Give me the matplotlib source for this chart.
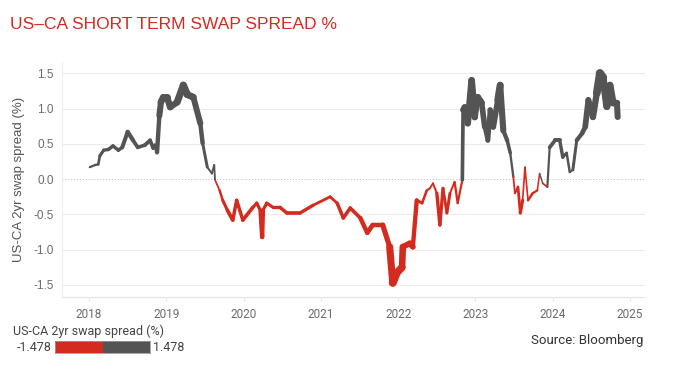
import numpy as np
import matplotlib
matplotlib.use("Agg")
import matplotlib.pyplot as plt
from matplotlib.collections import LineCollection
from matplotlib.patches import Rectangle

# ---- data (decimal year, spread %) ----
years = [2018.01, 2018.08, 2018.12, 2018.14, 2018.19, 2018.25, 2018.31, 2018.38, 2018.43, 2018.50,
         2018.57, 2018.63, 2018.72, 2018.79, 2018.83, 2018.85, 2018.88, 2018.91, 2018.93, 2018.96,
         2019.01, 2019.05, 2019.14, 2019.22, 2019.27, 2019.35, 2019.44, 2019.47, 2019.53, 2019.59,
         2019.62, 2019.63, 2019.69, 2019.73, 2019.79, 2019.86, 2019.91, 2019.99, 2020.12, 2020.17,
         2020.22, 2020.24, 2020.25, 2020.30, 2020.38, 2020.47, 2020.56, 2020.73, 2020.90, 2021.12,
         2021.21, 2021.29, 2021.38, 2021.51, 2021.60, 2021.67, 2021.80, 2021.89, 2021.93, 2021.98,
         2022.05, 2022.06, 2022.15, 2022.19, 2022.24, 2022.31, 2022.37, 2022.41, 2022.45, 2022.50,
         2022.54, 2022.58, 2022.63, 2022.67, 2022.73, 2022.77, 2022.83, 2022.84, 2022.86, 2022.90,
         2022.95, 2022.99, 2023.03, 2023.08, 2023.12, 2023.16, 2023.19, 2023.23, 2023.29, 2023.32,
         2023.36, 2023.41, 2023.45, 2023.49, 2023.51, 2023.55, 2023.58, 2023.61, 2023.64, 2023.68,
         2023.74, 2023.80, 2023.83, 2023.87, 2023.93, 2023.96, 2024.03, 2024.09, 2024.13, 2024.18,
         2024.22, 2024.26, 2024.31, 2024.38, 2024.42, 2024.46, 2024.52, 2024.57, 2024.61, 2024.65,
         2024.70, 2024.74, 2024.78, 2024.83, 2024.84]
spread = [0.17, 0.20, 0.21, 0.33, 0.41, 0.42, 0.47, 0.41, 0.45, 0.67,
          0.55, 0.45, 0.48, 0.55, 0.44, 0.48, 0.38, 0.90, 1.09, 1.16,
          1.16, 1.02, 1.09, 1.33, 1.20, 1.16, 0.79, 0.51, 0.17, 0.08,
          0.20, -0.01, -0.16, -0.30, -0.44, -0.58, -0.30, -0.58, -0.40, -0.34,
          -0.45, -0.82, -0.44, -0.34, -0.40, -0.40, -0.48, -0.48, -0.37, -0.25,
          -0.34, -0.55, -0.41, -0.55, -0.76, -0.65, -0.65, -0.96, -1.47, -1.33,
          -1.25, -0.96, -0.91, -0.96, -0.30, -0.34, -0.16, -0.13, -0.06, -0.20,
          -0.65, -0.13, -0.48, -0.20, -0.04, -0.34, -0.01, 0.98, 1.02, 0.79,
          1.40, 0.88, 1.16, 1.08, 0.74, 0.55, 0.98, 0.74, 1.12, 1.33,
          0.69, 0.55, 0.37, 0.03, -0.20, -0.11, -0.48, -0.30, 0.17, -0.30,
          -0.20, -0.16, 0.08, -0.06, -0.11, 0.45, 0.55, 0.55, 0.31, 0.37,
          0.10, 0.13, 0.55, 0.65, 0.74, 1.12, 0.88, 1.22, 1.50, 1.44,
          1.03, 1.33, 1.08, 1.08, 0.88]
scale_min = -1.478
scale_max = 1.478
year_ticks = [2018, 2019, 2020, 2021, 2022, 2023, 2024, 2025]
value_ticks = [-1.5, -1.0, -0.5, 0.0, 0.5, 1.0, 1.5]

RED = "#d42b1f"
GREY = "#545454"
TXT = "#6b6b6b"
FONT = "Roboto"

fig = plt.figure(figsize=(6.84, 3.84), dpi=100)
ax = fig.add_axes([0.0906, 0.2266, 0.852, 0.612])

x = np.array(years)
y = np.array(spread)
pts = np.column_stack([x, y]).reshape(-1, 1, 2)
segs = np.concatenate([pts[:-1], pts[1:]], axis=1)
mid = (y[:-1] + y[1:]) / 2
colors = [RED if m < 0 else GREY for m in mid]
widths = 1.0 + 5.0 * np.abs(mid) / scale_max
lc = LineCollection(segs, colors=colors, linewidths=widths, capstyle="round", joinstyle="round")
ax.add_collection(lc)

ax.set_xlim(2017.65, 2025.19)
ax.set_ylim(-1.67, 1.66)
ax.set_xticks(year_ticks)
ax.set_xticklabels([str(t) for t in year_ticks], fontfamily=FONT, fontsize=8.5, color=TXT)
ax.set_yticks(value_ticks)
ax.set_yticklabels([f"{v:.1f}" for v in value_ticks], fontfamily="Liberation Sans", fontsize=8.5, color=TXT)
for v in value_ticks:
    if v == 0:
        ax.axhline(v, color="#bdbdbd", lw=0.7, ls=(0, (1, 2)), zorder=0)
    else:
        ax.axhline(v, color="#ececec", lw=0.8, zorder=0)
for s in ["top", "right"]:
    ax.spines[s].set_visible(False)
ax.spines["left"].set_color("#eeeeee")
ax.spines["bottom"].set_color("#e6e6e6")
ax.tick_params(axis="y", length=0, pad=6)
ax.tick_params(axis="x", length=3, color="#e6e6e6", pad=5)
ax.set_ylabel("US-CA 2yr swap spread (%)", fontfamily="Liberation Sans", fontsize=9.5, color="#555555", labelpad=6)

fig.text(0.0146, 0.925, "US\u2013CA SHORT TERM SWAP SPREAD %", fontfamily="Liberation Sans",
         fontsize=12.5, color=RED, ha="left", va="baseline")

# legend scale bar
fig.text(0.019, 0.138, "US-CA 2yr swap spread (%)", fontfamily=FONT, fontsize=9, color="#444444",
         ha="left", va="center")
lax = fig.add_axes([55 / 684, (384 - 353) / 384, 95 / 684, 12 / 384])
lax.add_patch(Rectangle((scale_min, 0), -scale_min, 1, color=RED))
lax.add_patch(Rectangle((0, 0), scale_max, 1, color=GREY))
lax.set_xlim(scale_min, scale_max)
lax.set_ylim(0, 1)
lax.set_xticks([])
lax.set_yticks([])
for s in lax.spines.values():
    s.set_color("#9a9a9a")
    s.set_linewidth(0.6)
fig.text(52 / 684, 0.095, f"{scale_min:.3f}", fontfamily=FONT, fontsize=9, color="#444444",
         ha="right", va="center")
fig.text(153 / 684, 0.095, f"{scale_max:.3f}", fontfamily=FONT, fontsize=9, color="#444444",
         ha="left", va="center")

fig.text(643 / 684, 0.112, "Source: Bloomberg", fontfamily=FONT, fontsize=9.5, color="#333333",
         ha="right", va="center")

fig.savefig("out.png", dpi=100, facecolor="white")
